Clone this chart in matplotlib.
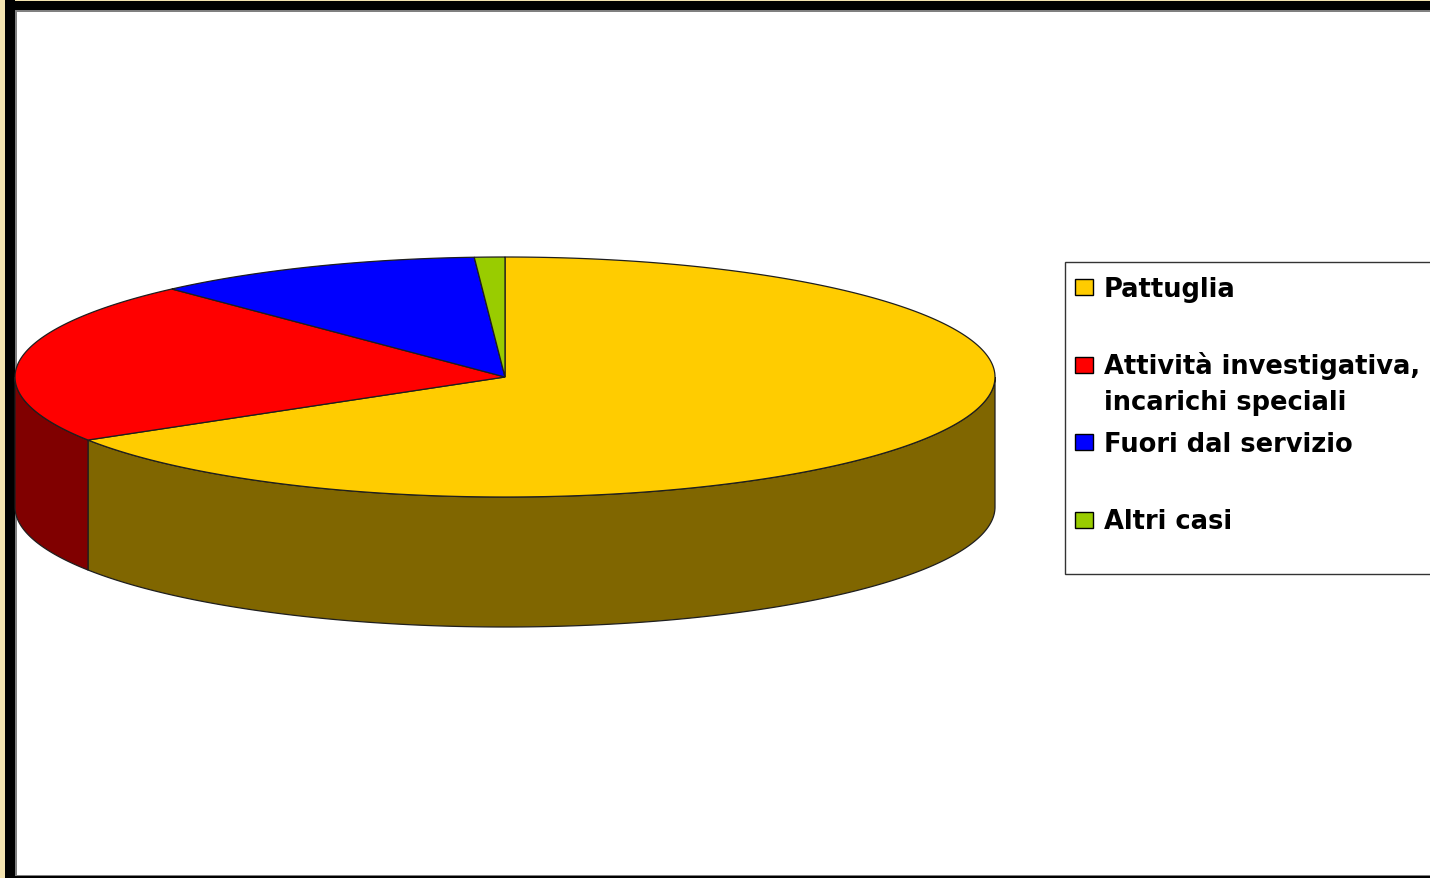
import numpy as np
import matplotlib.pyplot as plt
from matplotlib.patches import Polygon, Rectangle

# data
labels = ['Pattuglia', 'Attività investigativa,\nincarichi speciali',
          'Fuori dal servizio', 'Altri casi']
values = [66.2, 21.9, 10.9, 1.0]
top_colors = ['#FFCC00', '#FF0000', '#0000FF', '#99CC00']
side_colors = ['#806600', '#800000', '#000080', '#4D6600']

W, H = 1430, 879
fig = plt.figure(figsize=(W / 100, H / 100), dpi=100)
ax = fig.add_axes([0, 0, 1, 1])
ax.set_xlim(0, W)
ax.set_ylim(H, 0)
ax.axis('off')

# picture frame (cream strip + black border)
for x, y, w, h, c in [(0, 0, 5, H, '#F3E3B0'), (0, 0, W, 2, '#F3E3B0'),
                      (5, 2, W, 9, 'black'), (5, 0, 10, H, 'black'),
                      (15, 11, W, 1.5, '#808080'), (15, 11, 1.5, H, '#808080'),
                      (15, 876, W, 1, '#808080'), (5, 877, W, 2, 'black')]:
    ax.add_patch(Rectangle((x, y), w, h, fc=c, lw=0))

# 3d pie geometry
CX, CY, RX, RY, DEPTH = 505, 378, 490, 120, 130
EDGE = '#1e1e1e'


def rim(t, drop=0):
    t = np.radians(t)
    return np.column_stack([CX + RX * np.cos(t), CY - RY * np.sin(t) + drop])


fracs = np.array(values) / sum(values)
ends = 90 - 360 * np.cumsum(fracs)
starts = np.r_[90, ends[:-1]]

# outer walls, only the front half is visible
for s, e, c in zip(starts, ends, side_colors):
    lo, hi = max(e, -180), min(s, 0)
    if lo >= hi:
        continue
    t = np.linspace(hi, lo, 200)
    pts = np.vstack([rim(t), rim(t[::-1], DEPTH)])
    ax.add_patch(Polygon(pts, closed=True, fc=c, ec=EDGE, lw=0.9))

# top faces
for s, e, c in zip(starts, ends, top_colors):
    t = np.linspace(s, e, 300)
    pts = np.vstack([[CX, CY], rim(t)])
    ax.add_patch(Polygon(pts, closed=True, fc=c, ec=EDGE, lw=0.9))

# legend box, drawn by hand to get the excel spacing
ax.add_patch(Rectangle((1065, 263), 400, 312, fc='white', ec='#333333', lw=1))
for i, (lab, c) in enumerate(zip(labels, top_colors)):
    base = 297 + 77.5 * i
    ax.add_patch(Rectangle((1075, base - 17), 18, 16, fc=c, ec='black', lw=1))
    for j, line in enumerate(lab.split('\n')):
        ax.text(1104, base + 36 * j, line, fontsize=18.5, fontweight='bold',
                family='DejaVu Sans', va='baseline', ha='left')

fig.savefig('out.png', dpi=100)
